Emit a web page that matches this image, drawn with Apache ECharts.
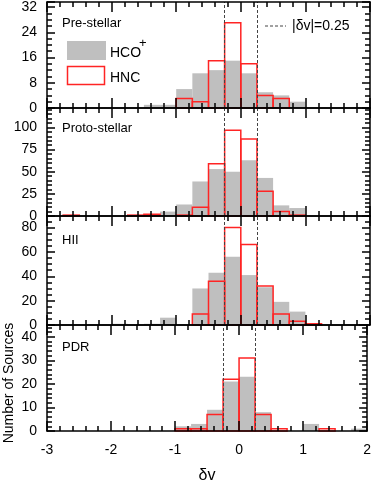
<!DOCTYPE html>
<html>
<head>
<meta charset="utf-8">
<script src="https://cdn.jsdelivr.net/npm/echarts@6/dist/echarts.min.js"></script>
<style>
  html, body { margin: 0; padding: 0; background: #fff; }
  #chart { width: 374px; height: 485px; }
</style>
</head>
<body>
<div id="chart"></div>
<script>
// Histograms of delta-v for HCO+ (grey) and HNC (red outline), four source classes
var binStart = [-3.0, -2.75, -2.5, -2.25, -2.0, -1.75, -1.5, -1.25, -1.0, -0.75,
                -0.5, -0.25, 0.0, 0.25, 0.5, 0.75, 1.0, 1.25, 1.5, 1.75];
var binWidth = 0.25;

var panelNames = ['Pre-stellar', 'Proto-stellar', 'HII', 'PDR'];

var hcoPre   = [0, 0, 0, 0, 0, 0, 1, 1, 6, 11, 12, 15, 11, 5, 4, 2, 0, 0, 0, 0];
var hncPre   = [0, 0, 0, 0, 0, 0, 0, 0, 3, 2, 15, 27, 14, 4, 3, 0, 0, 0, 0, 0];
var hcoProto = [0, 0, 0, 0, 0, 0, 0, 5, 13, 39, 53, 50, 63, 43, 12, 9, 0, 0, 0, 0];
var hncProto = [0, 1, 0, 0, 0, 1, 2, 0, 1, 10, 59, 97, 87, 28, 5, 1, 0, 0, 0, 0];
var hcoHII   = [0, 0, 0, 0, 1, 0, 1, 6, 0, 30, 43, 56, 41, 31, 19, 11, 0, 0, 0, 0];
var hncHII   = [0, 0, 0, 0, 0, 0, 0, 0, 0, 9, 36, 80, 66, 32, 9, 3, 1, 0, 0, 0];
var hcoPDR   = [0, 0, 0, 0, 0, 0, 0, 0, 2, 3, 9, 21, 23, 8, 0, 0, 3, 0, 0, 1];
var hncPDR   = [0, 0, 0, 0, 0, 0, 0, 0, 1, 1, 7, 22, 31, 7, 1, 0, 0, 1, 0, 0];

var hcoCounts = [hcoPre, hcoProto, hcoHII, hcoPDR];
var hncCounts = [hncPre, hncProto, hncHII, hncPDR];

var yMax = [33.6, 122, 89.5, 45];
var yStep = [8, 25, 20, 10];
var yMinorSplit = [4, 5, 4, 5];
var dvLimit = [-0.25, 0.25];

var font = "'Liberation Sans', Arial, sans-serif";
var ink = '#000';
var grey = '#bfbfbf';
var red = '#ff2424';

var gridTop = [2, 108, 216, 325];
var gridHeight = [106, 108, 109, 108];

function histData(counts) {
  var out = [];
  counts.forEach(function (c, i) {
    if (c > 0) out.push([binStart[i], binStart[i] + binWidth, c]);
  });
  return out;
}

function histItem(fill, stroke, lw) {
  return function (params, api) {
    var a = api.coord([api.value(0), api.value(2)]);
    var b = api.coord([api.value(1), 0]);
    return {
      type: 'rect',
      shape: { x: a[0], y: a[1], width: b[0] - a[0], height: b[1] - a[1] },
      style: { fill: fill, stroke: stroke, lineWidth: lw }
    };
  };
}

var lineStyle = { color: ink, width: 1.5 };
var grids = [], xAxes = [], yAxes = [], series = [];

for (var i = 0; i < 4; i++) {
  grids.push({ left: 47, right: 4, top: gridTop[i], height: gridHeight[i] });

  [false, true].forEach(function (top) {
    xAxes.push({
      type: 'value', gridIndex: i, min: -3, max: 2, interval: 1,
      position: top ? 'top' : 'bottom', z: 10,
      axisLine: { show: true, onZero: false, lineStyle: lineStyle },
      axisTick: { show: true, inside: true, length: 10, lineStyle: lineStyle },
      minorTick: { show: true, splitNumber: 5, length: 5, lineStyle: lineStyle },
      axisLabel: { show: !top && i === 3, color: ink, fontSize: 14, fontFamily: font, margin: 12 },
      splitLine: { show: false },
      name: (!top && i === 3) ? 'δv' : '',
      nameLocation: 'middle', nameGap: 37,
      nameTextStyle: { color: ink, fontSize: 16, fontFamily: font }
    });
    yAxes.push({
      type: 'value', gridIndex: i, min: 0, max: yMax[i], interval: yStep[i],
      position: top ? 'right' : 'left', z: 10,
      axisLine: { show: true, onZero: false, lineStyle: lineStyle },
      axisTick: { show: true, inside: true, length: 8, lineStyle: lineStyle },
      minorTick: { show: true, splitNumber: yMinorSplit[i], length: 5, lineStyle: lineStyle },
      axisLabel: { show: !top, showMaxLabel: false, color: ink, fontSize: 14, fontFamily: font, margin: 10 },
      splitLine: { show: false }
    });
  });

  series.push({
    type: 'custom', name: 'HCO+', xAxisIndex: 2 * i, yAxisIndex: 2 * i, z: 2,
    renderItem: histItem(grey, null, 0),
    encode: { x: [0, 1], y: 2 },
    data: histData(hcoCounts[i])
  });
  series.push({
    type: 'custom', name: 'HNC', xAxisIndex: 2 * i, yAxisIndex: 2 * i, z: 3,
    renderItem: histItem('none', red, 1.5),
    encode: { x: [0, 1], y: 2 },
    data: histData(hncCounts[i])
  });
  series.push({
    type: 'line', xAxisIndex: 2 * i, yAxisIndex: 2 * i, z: 5, data: [],
    markLine: {
      silent: true, symbol: 'none', label: { show: false },
      lineStyle: { color: '#444', width: 1, type: [3, 2] },
      data: dvLimit.map(function (v) { return { xAxis: v }; })
    }
  });
}

var textStyle = function (t, x, y, size) {
  return { type: 'text', x: x, y: y, z: 20,
    style: { text: t, fill: ink, font: size + 'px ' + font, textAlign: 'left', textVerticalAlign: 'middle' } };
};

var graphics = [
  textStyle(panelNames[0], 62, 23, 13),
  textStyle(panelNames[1], 62, 128, 13),
  textStyle(panelNames[2], 62, 240, 13),
  textStyle(panelNames[3], 62, 347, 13),
  { type: 'rect', z: 20, shape: { x: 67, y: 41, width: 39, height: 19 }, style: { fill: grey } },
  { type: 'rect', z: 20, shape: { x: 67.5, y: 66.5, width: 37, height: 18 }, style: { fill: 'none', stroke: red, lineWidth: 1.5 } },
  textStyle('HCO', 110, 53, 14),
  textStyle('+', 139, 43, 13),
  textStyle('HNC', 110, 78, 14),
  { type: 'line', z: 20, shape: { x1: 265, y1: 26, x2: 286, y2: 26 }, style: { stroke: '#444', lineWidth: 1, lineDash: [3, 2] } },
  textStyle('|δv|=0.25', 292, 26, 14),
  { type: 'text', x: 9, y: 383, rotation: Math.PI / 2, z: 20,
    style: { text: 'Number of Sources', fill: ink, font: '14px ' + font, textAlign: 'center', textVerticalAlign: 'middle' } }
];

var chart = echarts.init(document.getElementById('chart'), null, { renderer: 'canvas' });
chart.setOption({
  animation: false,
  backgroundColor: '#fff',
  grid: grids,
  xAxis: xAxes,
  yAxis: yAxes,
  series: series,
  graphic: graphics
});
</script>
</body>
</html>
